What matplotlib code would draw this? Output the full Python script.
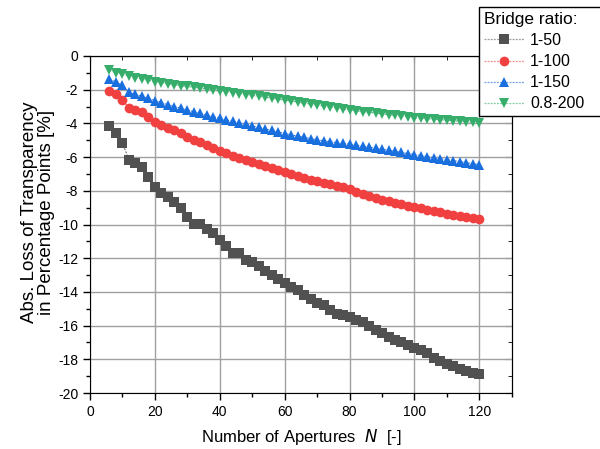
import matplotlib
matplotlib.use("Agg")
import matplotlib.pyplot as plt
from matplotlib.ticker import MultipleLocator, FuncFormatter
from matplotlib.lines import Line2D
from matplotlib.patches import Rectangle

plt.rcParams["font.family"] = ["Liberation Sans", "DejaVu Sans"]

# Number of apertures N = 6, 8, ..., 120
apertures = list(range(6, 121, 2))

loss_1_50 = [
    -4.15, -4.55, -5.15, -6.17, -6.33, -6.6, -7.16, -7.8, -8.15, -8.39,
    -8.66, -9.02, -9.53, -9.97, -9.97, -10.29, -10.5, -10.9, -11.28, -11.67,
    -11.67, -12.1, -12.23, -12.46, -12.74, -12.98, -13.25, -13.49, -13.69, -13.89,
    -14.17, -14.4, -14.64, -14.8, -15.07, -15.3, -15.4, -15.47, -15.65, -15.8,
    -16.05, -16.25, -16.45, -16.65, -16.85, -17.0, -17.15, -17.3, -17.45, -17.65,
    -17.95, -18.1, -18.25, -18.4, -18.55, -18.67, -18.8, -18.85,
]
loss_1_100 = [
    -2.1, -2.28, -2.6, -3.1, -3.2, -3.3, -3.6, -3.94, -4.12, -4.26,
    -4.41, -4.58, -4.83, -4.98, -5.12, -5.3, -5.46, -5.62, -5.78, -5.92,
    -6.05, -6.18, -6.3, -6.4, -6.52, -6.65, -6.78, -6.88, -6.98, -7.1,
    -7.22, -7.33, -7.43, -7.53, -7.62, -7.72, -7.8, -7.9, -8.05, -8.2,
    -8.33, -8.45, -8.55, -8.63, -8.72, -8.8, -8.88, -8.96, -9.03, -9.12,
    -9.2, -9.27, -9.35, -9.43, -9.5, -9.57, -9.64, -9.7,
]
loss_1_150 = [
    -1.38, -1.55, -1.75, -2.15, -2.28, -2.4, -2.52, -2.65, -2.77, -2.89,
    -3.0, -3.1, -3.2, -3.3, -3.4, -3.5, -3.6, -3.7, -3.79, -3.88,
    -3.97, -4.06, -4.15, -4.24, -4.33, -4.42, -4.51, -4.6, -4.68, -4.76,
    -4.83, -4.9, -4.97, -5.03, -5.09, -5.14, -5.19, -5.22, -5.28, -5.35,
    -5.41, -5.47, -5.53, -5.6, -5.66, -5.72, -5.79, -5.85, -5.91, -5.97,
    -6.03, -6.09, -6.15, -6.21, -6.27, -6.33, -6.39, -6.45,
]
loss_08_200 = [
    -0.85, -0.98, -1.08, -1.2, -1.28, -1.36, -1.44, -1.52, -1.58, -1.64,
    -1.7, -1.76, -1.81, -1.86, -1.91, -1.96, -2.0, -2.05, -2.11, -2.17,
    -2.23, -2.29, -2.34, -2.4, -2.45, -2.51, -2.56, -2.62, -2.68, -2.74,
    -2.8, -2.86, -2.91, -2.97, -3.03, -3.09, -3.14, -3.2, -3.25, -3.3,
    -3.34, -3.39, -3.43, -3.48, -3.52, -3.57, -3.61, -3.66, -3.69, -3.72,
    -3.75, -3.78, -3.81, -3.84, -3.87, -3.9, -3.94, -3.97,
]

labels = ["1-50", "1-100", "1-150", "0.8-200"]
series = [loss_1_50, loss_1_100, loss_1_150, loss_08_200]
colors = ["#515151", "#F14040", "#1A6FDF", "#37AD6B"]
line_colors = ["#9a9a9a", "#f78a8a", "#6fa3ec", "#80cfa0"]
markers = ["s", "o", "^", "v"]

fig = plt.figure(figsize=(6.0, 4.49), dpi=100)
ax = fig.add_axes([0.15, 0.1247, 0.703, 0.7506])

for vals, col, mk in zip(series, colors, markers):
    ax.plot(apertures, vals, linestyle=(0, (2, 1.5)), linewidth=0.7, color=col,
            marker=mk, markersize=7, markeredgewidth=0)

ax.set_xlim(0, 130)
ax.set_ylim(-20, 0)
ax.xaxis.set_major_locator(MultipleLocator(20))
ax.xaxis.set_minor_locator(MultipleLocator(10))
ax.yaxis.set_major_locator(MultipleLocator(2))
ax.yaxis.set_minor_locator(MultipleLocator(1))
ax.yaxis.set_major_formatter(FuncFormatter(lambda v, p: "%d" % round(v)))

ax.grid(True, which="major", color="#a0a0a0", linewidth=1.0)
ax.set_axisbelow(True)

ax.tick_params(axis="both", which="major", labelsize=10, length=5, width=1,
               direction="out")
ax.tick_params(axis="both", which="minor", length=3, width=1, direction="out")

# inward ticks on the opposite axes
ax_top = ax.secondary_xaxis("top")
ax_top.xaxis.set_major_locator(MultipleLocator(20))
ax_top.xaxis.set_minor_locator(MultipleLocator(10))
ax_top.tick_params(which="major", direction="in", length=5, labeltop=False)
ax_top.tick_params(which="minor", direction="in", length=3)
ax_right = ax.secondary_yaxis("right")
ax_right.yaxis.set_major_locator(MultipleLocator(2))
ax_right.yaxis.set_minor_locator(MultipleLocator(1))
ax_right.tick_params(which="major", direction="in", length=5, labelright=False)
ax_right.tick_params(which="minor", direction="in", length=3)

ax.set_xlabel("Number of Apertures  $\\mathit{N}$  [-]", fontsize=12, labelpad=6)
ax.set_ylabel("Abs. Loss of Transparency\nin Percentage Points [%]", fontsize=13.5,
              linespacing=1.0)
ax.yaxis.set_label_coords(-0.082, 0.537)

handles = [Line2D([], [], linestyle=(0, (1.5, 1.0)), linewidth=0.9, color=lc,
                  marker=mk, markersize=7, markerfacecolor=c, markeredgewidth=0)
           for c, lc, mk in zip(colors, line_colors, markers)]
leg = fig.legend(handles, labels, title="Bridge ratio:", loc="upper left",
                 bbox_to_anchor=(0.798, 0.984), fontsize=11.5, title_fontsize=12.5,
                 frameon=False, handlelength=2.5, handletextpad=0.4,
                 labelspacing=0.38, borderpad=0.3, borderaxespad=0)
leg._legend_box.align = "left"

# legend frame runs past the right edge of the figure, as in the original
fig.canvas.draw()
bb = leg.get_window_extent().transformed(fig.transFigure.inverted())
fig.add_artist(Rectangle((bb.x0, bb.y0), 1.2 - bb.x0, bb.height,
                         transform=fig.transFigure, facecolor="white",
                         edgecolor="black", linewidth=1.0, zorder=leg.zorder - 0.1))

fig.savefig("out.png", dpi=100)
